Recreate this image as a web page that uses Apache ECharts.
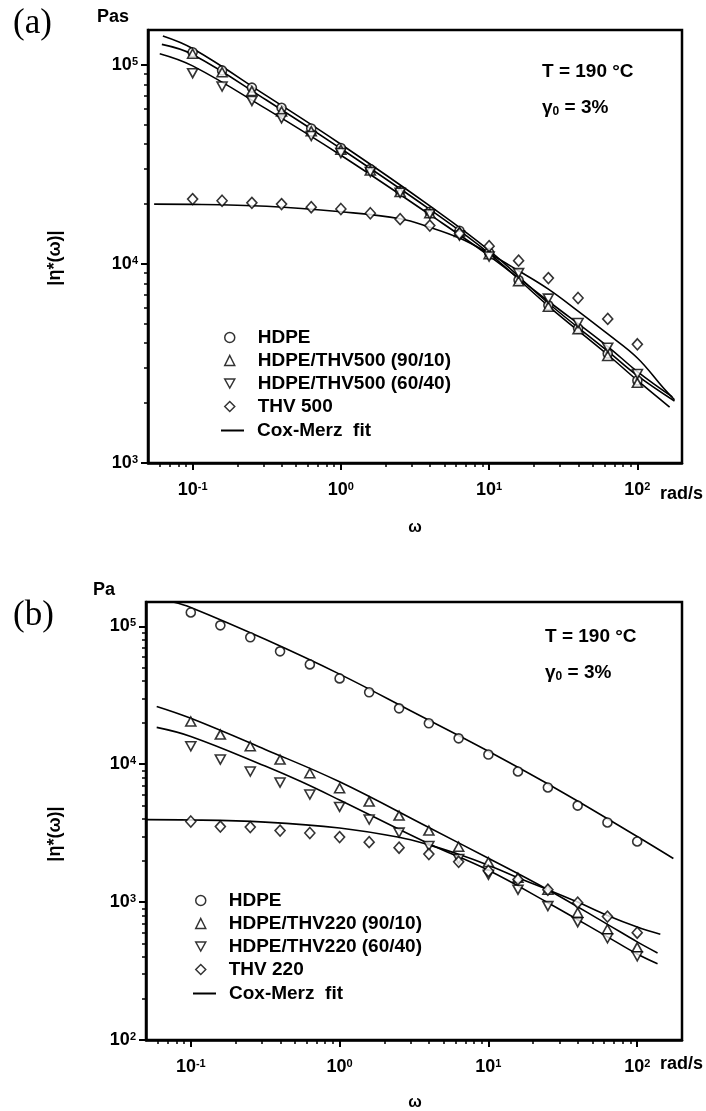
<!DOCTYPE html>
<html>
<head>
<meta charset="utf-8">
<script src="https://cdn.jsdelivr.net/npm/echarts@6/dist/echarts.min.js"></script>
<style>html,body{margin:0;padding:0;background:#fff}#c{width:706px;height:1111px}</style>
</head>
<body>
<div id="c"></div>
<script>
// ---------- data ----------
const omega = [0.1, 0.158, 0.251, 0.398, 0.631, 1, 1.58, 2.51, 3.98, 6.31, 10, 15.8, 25.1, 39.8, 63.1, 100];

// panel (a) THV500 blends
const a_HDPE = [116000, 94000, 77000, 61000, 48000, 38300, 30000, 23300, 18300, 14700, 11400, 8300, 6200, 4750, 3550, 2600];
const a_9010 = [114000, 92000, 74000, 58500, 46500, 37500, 29500, 23000, 18000, 14500, 11200, 8200, 6100, 4700, 3450, 2530];
const a_6040 = [91000, 78000, 66000, 54000, 44000, 36100, 29000, 22800, 17800, 13900, 10900, 9000, 6700, 5050, 3800, 2800];
const a_THV = [21200, 20800, 20300, 20000, 19300, 18900, 18000, 16800, 15600, 14200, 12300, 10400, 8500, 6750, 5300, 3950];

const aFitHDPE_w = [0.063, 0.1, 0.316, 1, 3.98, 10, 25.1, 63.1, 100, 178];
const aFitHDPE = [140000, 121000, 70000, 40000, 19600, 11700, 6350, 3650, 2750, 2050];
const aFit9010_w = [0.062, 0.1, 0.316, 1, 3.98, 10, 25.1, 63.1, 100, 165];
const aFit9010 = [127000, 113000, 66500, 38000, 18800, 11300, 6150, 3500, 2600, 1910];
const aFit6040_w = [0.06, 0.1, 0.316, 1, 3.98, 10, 25.1, 63.1, 100, 172];
const aFit6040 = [114000, 99000, 60000, 35200, 17700, 11000, 6500, 3850, 2880, 2150];
const aFitTHV_w = [0.055, 0.1, 0.316, 1, 2.51, 3.98, 6.31, 10, 15.8, 25.1, 39.8, 63.1, 100, 150, 178];
const aFitTHV = [20000, 19950, 19500, 18300, 16900, 15300, 13500, 11300, 9250, 7480, 5800, 4450, 3370, 2380, 2080];

// panel (b) THV220 blends
const b_HDPE = [126000, 101600, 83200, 65800, 52900, 41900, 33200, 25400, 19800, 15400, 11750, 8850, 6780, 5010, 3780, 2750];
const b_9010 = [20400, 16400, 13500, 10800, 8600, 6700, 5360, 4240, 3300, 2520, 1950, 1500, 1230, 838, 636, 470];
const b_6040 = [13500, 10800, 8850, 7360, 6030, 4900, 3970, 3190, 2550, 2050, 1580, 1230, 935, 715, 547, 405];
const b_THV = [3840, 3530, 3500, 3300, 3170, 2960, 2720, 2480, 2230, 1960, 1680, 1460, 1230, 990, 785, 600];

const bFitHDPE_w = [0.076, 0.1, 0.316, 1, 3.16, 10, 31.6, 100, 175];
const bFitHDPE = [150000, 137000, 80500, 45000, 23700, 12400, 6240, 2990, 2070];
const bFit9010_w = [0.059, 0.1, 0.316, 1, 3.98, 10, 25.1, 63.1, 100, 137];
const bFit9010 = [26200, 21500, 12800, 7450, 3470, 2080, 1230, 690, 515, 428];
const bFit6040_w = [0.059, 0.1, 0.316, 0.55, 1, 3.98, 10, 25.1, 63.1, 100, 137];
const bFit6040 = [18500, 15900, 9700, 7480, 5500, 2650, 1700, 990, 560, 420, 357];
const bFitTHV_w = [0.05, 0.1, 0.316, 1, 2.51, 3.98, 6.31, 10, 15.8, 25.1, 39.8, 63.1, 100, 143];
const bFitTHV = [3960, 3940, 3800, 3450, 2950, 2600, 2220, 1850, 1500, 1230, 1000, 800, 660, 585];

// ticks
const xMajor = [0.1, 1, 10, 100];
const xMinor = [0.06, 0.07, 0.08, 0.09, 0.2, 0.3, 0.4, 0.5, 0.6, 0.7, 0.8, 0.9, 2, 3, 4, 5, 6, 7, 8, 9, 20, 30, 40, 50, 60, 70, 80, 90];
const yMajorA = [1000, 10000, 100000];
const yMinorA = [2000, 3000, 4000, 5000, 6000, 7000, 8000, 9000, 20000, 30000, 40000, 50000, 60000, 70000, 80000, 90000];
const yMajorB = [100, 1000, 10000, 100000];
const yMinorB = [200, 300, 400, 500, 600, 700, 800, 900, 2000, 3000, 4000, 5000, 6000, 7000, 8000, 9000, 20000, 30000, 40000, 50000, 60000, 70000, 80000, 90000];

const legA = ['HDPE', 'HDPE/THV500 (90/10)', 'HDPE/THV500 (60/40)', 'THV 500'];
const legB = ['HDPE', 'HDPE/THV220 (90/10)', 'HDPE/THV220 (60/40)', 'THV 220'];
const fitName = 'Cox-Merz  fit';

// ---------- chart ----------
const FONT = '"Liberation Sans", Arial, sans-serif';
const pair = (ws, vs) => ws.map((w, i) => [w, vs[i]]);
const powFmt = v => '{b|10}{s|' + Math.round(Math.log10(v)) + '}';
const powRich = {
  b: {fontSize: 18, fontWeight: 'bold', fontFamily: FONT, color: '#000'},
  s: {fontSize: 11, fontWeight: 'bold', fontFamily: FONT, color: '#000', verticalAlign: 'top'}
};

function xAx(gi, minor) {
  return {
    type: 'log', logBase: 10, gridIndex: gi, min: 0.05, max: 200, position: 'bottom', offset: 0,
    axisLine: {show: !minor, lineStyle: {color: '#000', width: 2.5}},
    axisTick: {show: true, length: minor ? 4 : 7, customValues: minor ? xMinor : xMajor,
      lineStyle: {color: '#000', width: minor ? 1.5 : 2}},
    axisLabel: {show: !minor, customValues: xMajor, formatter: powFmt, rich: powRich, margin: 18},
    splitLine: {show: false}, minorTick: {show: false}
  };
}
function yAx(gi, minor, lo, major, minorVals) {
  return {
    type: 'log', logBase: 10, gridIndex: gi, min: lo, max: 150000, position: 'left', offset: 0,
    axisLine: {show: !minor, lineStyle: {color: '#000', width: 2.5}},
    axisTick: {show: true, length: minor ? 4 : 7, customValues: minor ? minorVals : major,
      lineStyle: {color: '#000', width: minor ? 1.5 : 2}},
    axisLabel: {show: !minor, customValues: major, formatter: powFmt, rich: powRich, margin: 10},
    splitLine: {show: false}, minorTick: {show: false}
  };
}

const DOWN = 'path://M0,0 L10,0 L5,9 Z';
const sym = {
  circle: {symbol: 'circle', symbolSize: 9, symbolRotate: 0},
  up: {symbol: 'triangle', symbolSize: [10, 9], symbolRotate: 0},
  down: {symbol: 'triangle', symbolSize: [10, 9], symbolRotate: 180},
  diamond: {symbol: 'diamond', symbolSize: [10, 11], symbolRotate: 0}
};
function scat(name, xi, vals, s) {
  return Object.assign({
    type: 'scatter', name: name, xAxisIndex: xi, yAxisIndex: xi,
    data: pair(omega, vals), z: 4,
    itemStyle: {color: '#fff', borderColor: '#000', borderWidth: 1.6}
  }, s);
}
function fit(xi, ws, vs) {
  return {
    type: 'line', name: fitName, xAxisIndex: xi, yAxisIndex: xi,
    data: pair(ws, vs), symbol: 'none', smooth: 0.4, z: 3,
    itemStyle: {color: '#000'},
    lineStyle: {color: '#000', width: 1.6}
  };
}

const legText = pad => ({fontSize: 19, fontWeight: 'bold', fontFamily: FONT, color: '#000', lineHeight: 19, padding: [0, 0, 0, pad]});
function symLegend(names, left, top) {
  return {
    orient: 'vertical', left: left, top: top, itemWidth: 10, itemHeight: 10, itemGap: 4,
    selectedMode: false, textStyle: legText(18),
    itemStyle: {borderWidth: 1.5, borderColor: '#000', color: '#fff'},
    data: [
      {name: names[0], icon: 'circle'},
      {name: names[1], icon: 'triangle'},
      {name: names[2], icon: DOWN},
      {name: names[3], icon: 'diamond'}
    ]
  };
}
function lineLegend(left, top) {
  return {
    orient: 'vertical', left: left, top: top, itemWidth: 23, itemHeight: 2, itemGap: 4,
    selectedMode: false, textStyle: legText(8),
    itemStyle: {color: '#000', borderWidth: 0},
    data: [{name: fitName, icon: 'rect'}]
  };
}

const txt = (x, y, text, size, extra) => ({
  type: 'text', x: x, y: y, silent: true,
  style: Object.assign({text: text, font: 'bold ' + size + 'px ' + FONT, fill: '#000', textVerticalAlign: 'middle'}, extra || {})
});
const gammaRich = {
  g: {fontSize: 19, fontWeight: 'bold', fontFamily: FONT, fill: '#000'},
  o: {fontSize: 12, fontWeight: 'bold', fontFamily: FONT, fill: '#000', verticalAlign: 'bottom', padding: [8, 0, 0, 0]}
};
const SERIF = '35px "Liberation Serif", "Times New Roman", serif';

const option = {
  animation: false,
  backgroundColor: '#fff',
  grid: [
    {left: 148, top: 30, width: 534, height: 433, show: true, borderColor: '#000', borderWidth: 2.5},
    {left: 146, top: 602, width: 536, height: 438, show: true, borderColor: '#000', borderWidth: 2.5}
  ],
  xAxis: [xAx(0, false), xAx(0, true), xAx(1, false), xAx(1, true)],
  yAxis: [
    yAx(0, false, 1000, yMajorA, yMinorA), yAx(0, true, 1000, yMajorA, yMinorA),
    yAx(1, false, 100, yMajorB, yMinorB), yAx(1, true, 100, yMajorB, yMinorB)
  ],
  legend: [
    symLegend(legA, 219, 323), lineLegend(216, 416),
    symLegend(legB, 190, 886), lineLegend(188, 979)
  ],
  series: [
    fit(0, aFitHDPE_w, aFitHDPE), fit(0, aFit9010_w, aFit9010), fit(0, aFit6040_w, aFit6040), fit(0, aFitTHV_w, aFitTHV),
    scat(legA[0], 0, a_HDPE, sym.circle), scat(legA[1], 0, a_9010, sym.up),
    scat(legA[2], 0, a_6040, sym.down), scat(legA[3], 0, a_THV, sym.diamond),
    fit(2, bFitHDPE_w, bFitHDPE), fit(2, bFit9010_w, bFit9010), fit(2, bFit6040_w, bFit6040), fit(2, bFitTHV_w, bFitTHV),
    scat(legB[0], 2, b_HDPE, sym.circle), scat(legB[1], 2, b_9010, sym.up),
    scat(legB[2], 2, b_6040, sym.down), scat(legB[3], 2, b_THV, sym.diamond)
  ],
  graphic: [
    txt(13, 24, '(a)', 35, {font: SERIF}),
    txt(97, 17, 'Pas', 18),
    txt(542, 72, 'T = 190 °C', 19),
    {type: 'text', x: 542, y: 108, silent: true, style: {text: '{g|γ}{o|0}{g| = 3%}', rich: gammaRich, textVerticalAlign: 'middle'}},
    Object.assign(txt(55, 258, '|η*(ω)|', 18, {textAlign: 'center'}), {rotation: Math.PI / 2}),
    txt(660, 494, 'rad/s', 18),
    txt(415, 528, 'ω', 16, {textAlign: 'center'}),

    txt(13, 616, '(b)', 35, {font: SERIF}),
    txt(93, 590, 'Pa', 18),
    txt(545, 637, 'T = 190 °C', 19),
    {type: 'text', x: 545, y: 673, silent: true, style: {text: '{g|γ}{o|0}{g| = 3%}', rich: gammaRich, textVerticalAlign: 'middle'}},
    Object.assign(txt(55, 834, '|η*(ω)|', 18, {textAlign: 'center'}), {rotation: Math.PI / 2}),
    txt(660, 1064, 'rad/s', 18),
    txt(415, 1103, 'ω', 16, {textAlign: 'center'})
  ]
};

const chart = echarts.init(document.getElementById('c'), null, {renderer: 'canvas'});
chart.setOption(option);
</script>
</body>
</html>
